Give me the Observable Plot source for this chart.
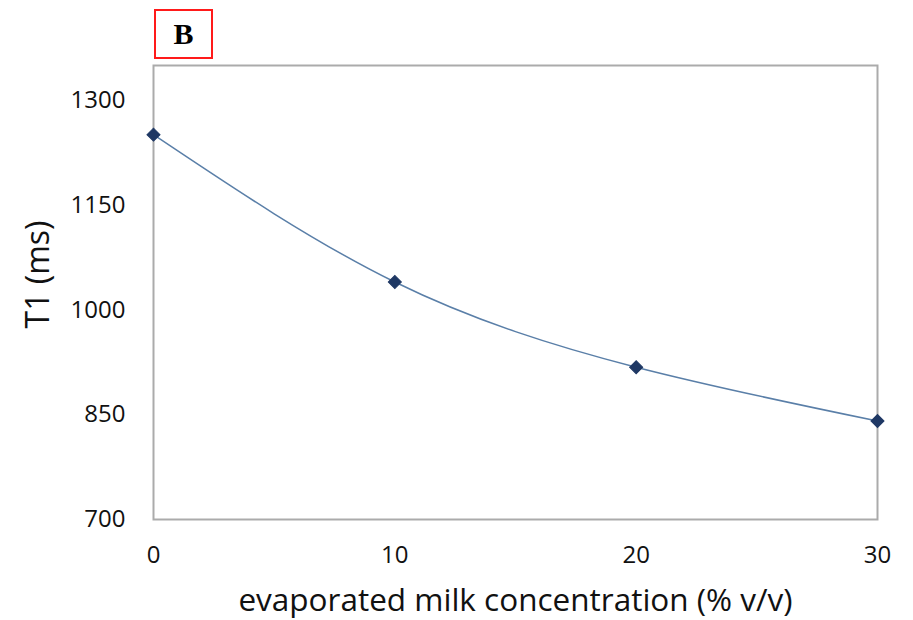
<!DOCTYPE html>
<html>
<head>
<meta charset="utf-8">
<script src="https://cdn.jsdelivr.net/npm/d3@7"></script>
<script src="https://cdn.jsdelivr.net/npm/@observablehq/plot@0.6"></script>
<style>
  html, body { margin: 0; padding: 0; background: #fff; }
  #wrap { position: relative; width: 913px; height: 620px; }
  #tag { position: absolute; left: 154px; top: 9px; width: 55px; height: 46px; z-index: 2;
         border: 2px solid #ff1a1a; box-sizing: content-box; background: #fff;
         font-family: "Liberation Serif", serif; font-weight: bold; font-size: 30px;
         display: flex; align-items: center; justify-content: center; color: #000; }
</style>
</head>
<body>
<div id="wrap"><div id="tag">B</div></div>
<script>
const concentration = [0, 10, 20, 30];
const t1 = [1251, 1040, 918, 841];
const xTicks = [0, 10, 20, 30];
const yTicks = [700, 850, 1000, 1150, 1300];
const xLabel = "evaporated milk concentration (% v/v)";
const yLabel = "T1 (ms)";

const data = concentration.map((c, i) => ({c, t: t1[i]}));

const chart = Plot.plot({
  width: 913,
  height: 620,
  marginLeft: 153,
  marginRight: 36,
  marginTop: 65,
  marginBottom: 101,
  style: {fontFamily: "'Open Sans', sans-serif", fontSize: "24px", color: "#111", background: "#fff", overflow: "visible"},
  x: {domain: [0, 30], ticks: xTicks, tickSize: 0, tickPadding: 26, tickFormat: d => String(d), label: null},
  y: {domain: [700, 1350], ticks: yTicks, tickSize: 0, tickPadding: 28, tickFormat: d => String(d), label: null},
  marks: [
    Plot.frame({stroke: "#ababab", strokeWidth: 2}),
    Plot.line(data, {x: "c", y: "t", curve: "natural", stroke: "#5a7fa8", strokeWidth: 1.5}),
    Plot.dot(data, {x: "c", y: "t", symbol: "square", rotate: 45, r: 5.2, fill: "#1f3864", stroke: "#1f3864", strokeWidth: 1}),
    Plot.text([xLabel], {frameAnchor: "bottom", lineAnchor: "middle", dy: 81, fontSize: 31.5, fill: "#111"}),
    Plot.text([yLabel], {frameAnchor: "left", textAnchor: "middle", lineAnchor: "middle", dx: -115, dy: -18, rotate: -90, fontSize: 32, fill: "#111"})
  ]
});
chart.style.position = "absolute";
chart.style.left = "0";
chart.style.top = "0";
chart.style.zIndex = "1";
document.getElementById("wrap").appendChild(chart);
</script>
</body>
</html>
